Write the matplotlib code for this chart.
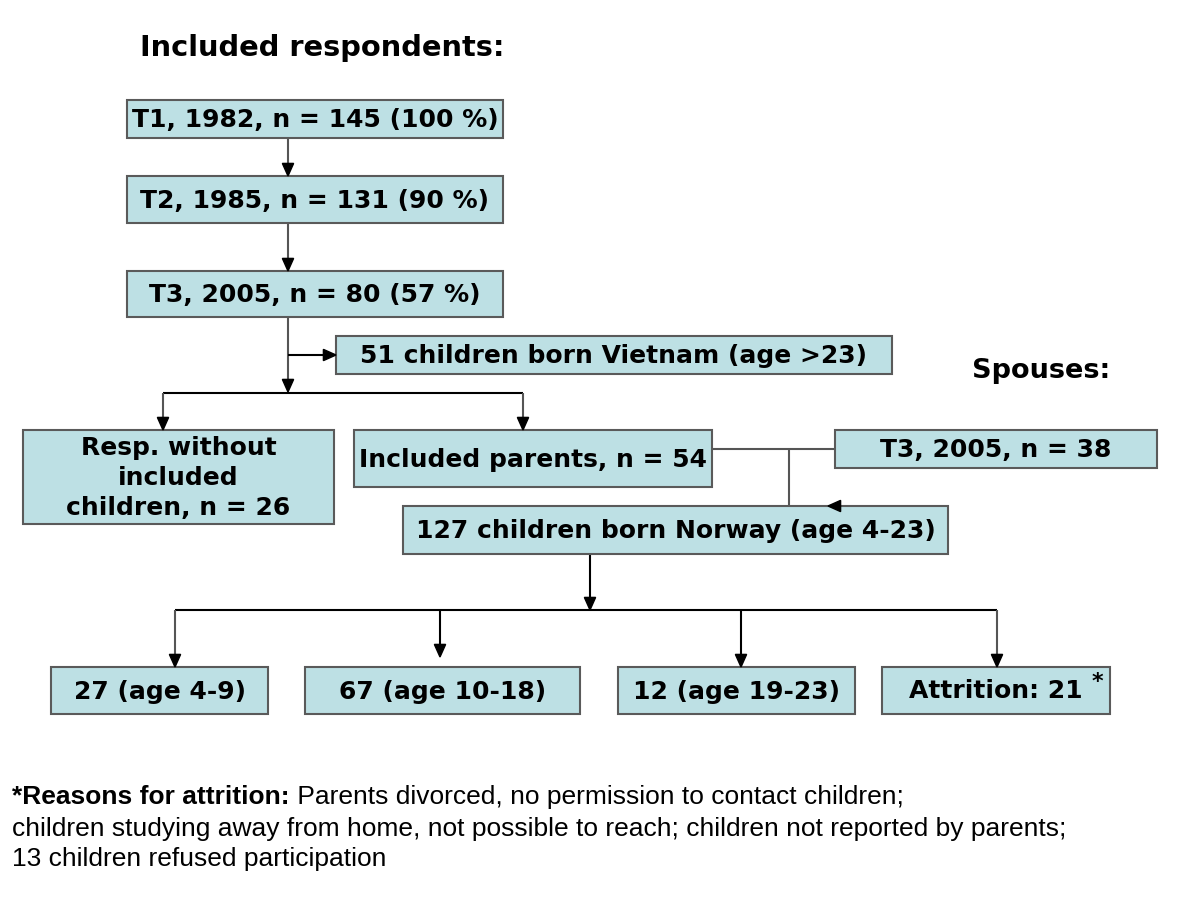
import matplotlib.pyplot as plt
from matplotlib.patches import Rectangle, Polygon

# labels of the flow chart
waves = ["T1, 1982, n = 145 (100 %)", "T2, 1985, n = 131 (90 %)", "T3, 2005, n = 80 (57 %)"]
vietnam = "51 children born Vietnam (age >23)"
no_children = "Resp. without\nincluded\nchildren, n = 26"
parents = "Included parents, n = 54"
spouses = "T3, 2005, n = 38"
norway = "127 children born Norway (age 4-23)"
age_groups = ["27 (age 4-9)", "67 (age 10-18)", "12 (age 19-23)", "Attrition: 21"]
footnote_bold = "*Reasons for attrition:"
footnote_rest = [" Parents divorced, no permission to contact children;",
                 "children studying away from home, not possible to reach; children not reported by parents;",
                 "13 children refused participation"]

FILL = "#bde0e4"
EDGE = "#5a5a5a"
FONT = "DejaVu Sans"

fig = plt.figure(figsize=(12, 9), dpi=100)
ax = fig.add_axes([0, 0, 1, 1])
ax.set_xlim(0, 1200)
ax.set_ylim(900, 0)
ax.axis("off")


def box(x0, x1, y0, y1, text, size=18, spacing=1.08):
    ax.add_patch(Rectangle((x0, y0), x1 - x0, y1 - y0, facecolor=FILL,
                           edgecolor=EDGE, lw=1.5, zorder=2))
    return ax.text((x0 + x1) / 2, (y0 + y1) / 2 + 1, text, ha="center", va="center",
                   fontsize=size, fontweight="bold", family=FONT,
                   linespacing=spacing, zorder=3)


def line(xs, ys, color="#555555"):
    ax.plot(xs, ys, color=color, lw=1.5, solid_capstyle="butt", zorder=1)


def head(x, y, d="down", s=9, color="black"):
    if d == "down":
        pts = [(x - s / 1.6, y - s * 1.4), (x + s / 1.6, y - s * 1.4), (x, y)]
    elif d == "right":
        pts = [(x - s * 1.4, y - s / 1.6), (x - s * 1.4, y + s / 1.6), (x, y)]
    else:
        pts = [(x + s * 1.4, y - s / 1.6), (x + s * 1.4, y + s / 1.6), (x, y)]
    ax.add_patch(Polygon(pts, closed=True, facecolor=color, edgecolor=color, zorder=4))


def arrow_down(x, y0, y1, color="#555555"):
    line([x, x], [y0, y1 - 8], color)
    head(x, y1)


# titles
ax.text(140, 48, "Included respondents:", fontsize=20.8, fontweight="bold",
        family=FONT, va="center", ha="left")
ax.text(972, 371, "Spouses:", fontsize=19.5, fontweight="bold",
        family=FONT, va="center", ha="left")

# wave boxes
wave_y = [(100, 138), (176, 223), (271, 317)]
for (y0, y1), lab in zip(wave_y, waves):
    box(127, 503, y0, y1, lab)
arrow_down(288, 138, 176)
arrow_down(288, 223, 271)

# split after T3
arrow_down(288, 317, 392)
line([288, 328], [355, 355], "black")
head(336, 355, "right")
box(336, 892, 336, 374, vietnam)

line([163, 523], [393, 393], "black")
arrow_down(163, 393, 430)
arrow_down(523, 393, 430)
box(23, 334, 430, 524, no_children, spacing=1.33)
box(354, 712, 430, 487, parents)
box(835, 1157, 430, 468, spouses)

# parents + spouses to Norway children
line([712, 835], [449, 449])
line([789, 789], [449, 506])
head(828, 506, "left")
box(403, 948, 506, 554, norway)

# age groups
arrow_down(590, 554, 610, "black")
line([175, 997], [610, 610], "black")
group_x = [(51, 268), (305, 580), (618, 855), (882, 1110)]
arrow_x = [175, 440, 741, 997]
arrow_end = [667, 657, 667, 667]
for (x0, x1), lab, axx, ye in zip(group_x, age_groups, arrow_x, arrow_end):
    arrow_down(axx, 610, ye, "#555555" if axx in (175, 997) else "black")
    box(x0, x1, 667, 714, lab)
ax.text(1097, 682, "*", fontsize=16, fontweight="bold", family=FONT,
        ha="center", va="center", zorder=3)

# footnote
fn = "Liberation Sans"
t = ax.text(12, 797, footnote_bold, fontsize=19, fontweight="bold",
            family=fn, va="center", ha="left")
fig.canvas.draw()
bb = t.get_window_extent()
x_end = ax.transData.inverted().transform((bb.x1, bb.y0))[0]
ax.text(x_end, 797, footnote_rest[0], fontsize=19, family=fn,
        va="center", ha="left")
ax.text(12, 829, footnote_rest[1], fontsize=19, family=fn, va="center", ha="left")
ax.text(12, 859, footnote_rest[2], fontsize=19, family=fn, va="center", ha="left")

fig.savefig("out.png", dpi=100, facecolor="white")
